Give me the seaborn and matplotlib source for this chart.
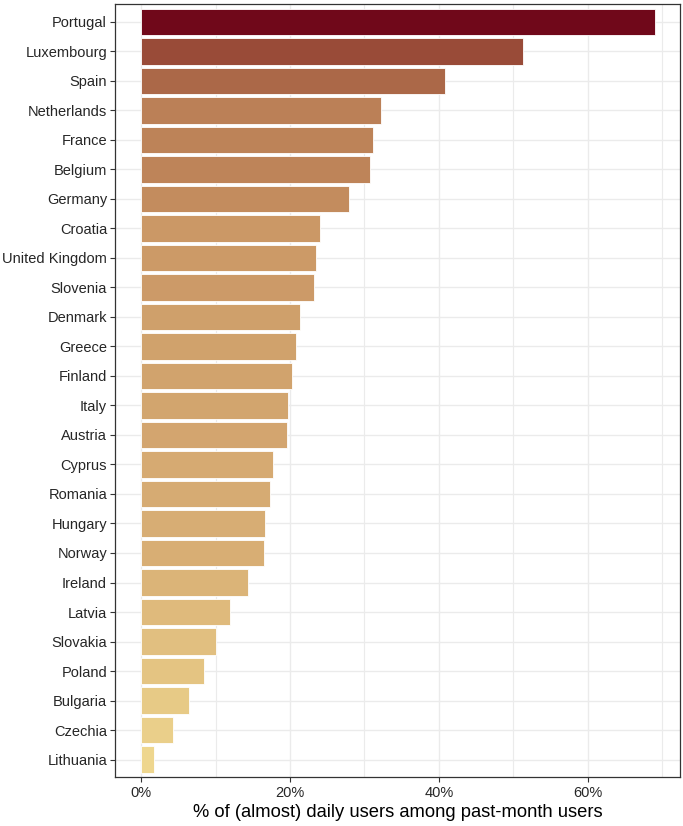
import numpy as np
import matplotlib
matplotlib.use("Agg")
import matplotlib.pyplot as plt
from matplotlib.colors import LinearSegmentedColormap, to_hex
from matplotlib.ticker import MultipleLocator, FuncFormatter
import seaborn as sns

# data
countries = ["Portugal", "Luxembourg", "Spain", "Netherlands", "France", "Belgium",
             "Germany", "Croatia", "United Kingdom", "Slovenia", "Denmark", "Greece",
             "Finland", "Italy", "Austria", "Cyprus", "Romania", "Hungary", "Norway",
             "Ireland", "Latvia", "Slovakia", "Poland", "Bulgaria", "Czechia", "Lithuania"]
daily_share = [69.0, 51.3, 40.8, 32.2, 31.1, 30.7, 27.9, 24.1, 23.5, 23.3, 21.4, 20.8,
               20.3, 19.7, 19.6, 17.7, 17.3, 16.6, 16.5, 14.3, 11.9, 10.0, 8.5, 6.4,
               4.3, 1.8]
x_ticks = [0, 20, 40, 60]

sns.set_style("white")
plt.rcParams['font.family'] = ['Liberation Sans', 'DejaVu Sans']

# continuous fill scale: light yellow (low) -> dark red (high)
cmap = LinearSegmentedColormap.from_list("daily", [
    (0.0, "#EED68E"), (0.27, "#D2A46E"), (0.43, "#BE8459"),
    (0.58, "#AB6848"), (0.74, "#994A38"), (1.0, "#70081A")])
lo, hi = min(daily_share), max(daily_share)
palette = {c: to_hex(cmap((v - lo) / (hi - lo))) for c, v in zip(countries, daily_share)}

fig = plt.figure(figsize=(6.83, 8.26), dpi=100)
ax = fig.add_axes([0.169, 0.059, 0.827, 0.936])

sns.barplot(x=daily_share, y=countries, hue=countries, palette=palette, legend=False,
            orient="h", width=0.9, saturation=1, edgecolor="white", linewidth=0.6, ax=ax)

# ggplot-like expansion
xmin, xmax = 0, max(daily_share)
pad = 0.05 * (xmax - xmin)
ax.set_xlim(xmin - pad, xmax + pad)
ax.set_ylim(len(countries) - 0.4, -0.6)

ax.set_xticks(x_ticks)
ax.xaxis.set_minor_locator(MultipleLocator(10))
ax.xaxis.set_major_formatter(FuncFormatter(lambda v, p: f"{v:.0f}%"))
ax.set_axisbelow(True)
ax.grid(which="major", axis="both", color="#EBEBEB", linewidth=1.0)
ax.grid(which="minor", axis="x", color="#EBEBEB", linewidth=0.8)

for s in ax.spines.values():
    s.set_color("#333333")
    s.set_linewidth(0.9)

ax.tick_params(axis="both", which="major", length=3.5, width=0.8, color="#333333",
               labelcolor="#262626", labelsize=10.5, pad=2.5, left=True, bottom=True)
ax.tick_params(axis="x", which="minor", length=0)

ax.set_ylabel("")
ax.set_xlabel("% of (almost) daily users among past-month users", fontsize=13.2,
              color="black", labelpad=3.5)

fig.savefig("out.png", dpi=100)
